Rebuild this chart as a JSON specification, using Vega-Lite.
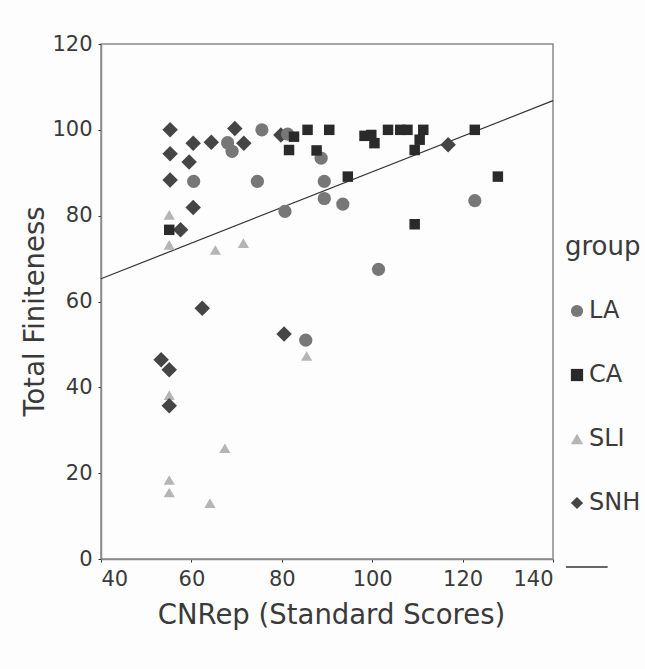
{
  "$schema": "https://vega.github.io/schema/vega-lite/v6.json",
  "width": 452,
  "height": 515,
  "autosize": "none",
  "padding": {"left": 101, "top": 44, "right": 92, "bottom": 110},
  "background": "#fdfdfd",
  "config": {
    "font": "DejaVu Sans",
    "view": {"stroke": "#8a8a8a", "strokeWidth": 1.5},
    "axis": {
      "grid": false,
      "domainColor": "#8a8a8a",
      "domainWidth": 1.5,
      "tickColor": "#333",
      "tickSize": 3,
      "labelFont": "DejaVu Sans",
      "labelFontSize": 21,
      "labelColor": "#3a3a3a",
      "titleFont": "DejaVu Sans",
      "titleFontSize": 27.5,
      "titleFontWeight": "normal",
      "titleColor": "#3a3a3a"
    },
    "legend": {
      "labelFont": "DejaVu Sans",
      "titleFont": "DejaVu Sans"
    }
  },
  "datasets": {
    "pts": [
      {"cnrep": 68, "fin": 97, "group": "LA"},
      {"cnrep": 69, "fin": 95, "group": "LA"},
      {"cnrep": 75.6, "fin": 100, "group": "LA"},
      {"cnrep": 60.5, "fin": 88, "group": "LA"},
      {"cnrep": 74.6, "fin": 88, "group": "LA"},
      {"cnrep": 80.7, "fin": 81, "group": "LA"},
      {"cnrep": 81.3, "fin": 99, "group": "LA"},
      {"cnrep": 88.7, "fin": 93.4, "group": "LA"},
      {"cnrep": 89.4, "fin": 88, "group": "LA"},
      {"cnrep": 89.4, "fin": 84, "group": "LA"},
      {"cnrep": 93.5, "fin": 82.7, "group": "LA"},
      {"cnrep": 122.7, "fin": 83.5, "group": "LA"},
      {"cnrep": 101.4, "fin": 67.5, "group": "LA"},
      {"cnrep": 85.3, "fin": 51, "group": "LA"},
      {"cnrep": 85.7, "fin": 100, "group": "CA"},
      {"cnrep": 82.7, "fin": 98.4, "group": "CA"},
      {"cnrep": 81.6, "fin": 95.3, "group": "CA"},
      {"cnrep": 87.7, "fin": 95.2, "group": "CA"},
      {"cnrep": 55.1, "fin": 76.7, "group": "CA"},
      {"cnrep": 90.5, "fin": 100, "group": "CA"},
      {"cnrep": 94.6, "fin": 89.1, "group": "CA"},
      {"cnrep": 98.3, "fin": 98.6, "group": "CA"},
      {"cnrep": 100.5, "fin": 96.9, "group": "CA"},
      {"cnrep": 99.8, "fin": 98.8, "group": "CA"},
      {"cnrep": 103.5, "fin": 100, "group": "CA"},
      {"cnrep": 106.2, "fin": 100, "group": "CA"},
      {"cnrep": 107.8, "fin": 100, "group": "CA"},
      {"cnrep": 111.3, "fin": 100, "group": "CA"},
      {"cnrep": 110.5, "fin": 97.7, "group": "CA"},
      {"cnrep": 109.4, "fin": 95.3, "group": "CA"},
      {"cnrep": 122.7, "fin": 100, "group": "CA"},
      {"cnrep": 127.8, "fin": 89.1, "group": "CA"},
      {"cnrep": 109.4, "fin": 78, "group": "CA"},
      {"cnrep": 55.1, "fin": 80.2, "group": "SLI"},
      {"cnrep": 55.1, "fin": 73.2, "group": "SLI"},
      {"cnrep": 65.3, "fin": 72, "group": "SLI"},
      {"cnrep": 71.5, "fin": 73.6, "group": "SLI"},
      {"cnrep": 55.1, "fin": 38.2, "group": "SLI"},
      {"cnrep": 55.1, "fin": 18.4, "group": "SLI"},
      {"cnrep": 55.1, "fin": 15.5, "group": "SLI"},
      {"cnrep": 64.1, "fin": 13, "group": "SLI"},
      {"cnrep": 67.4, "fin": 25.8, "group": "SLI"},
      {"cnrep": 85.5, "fin": 47.3, "group": "SLI"},
      {"cnrep": 55.3, "fin": 100, "group": "SNH"},
      {"cnrep": 55.3, "fin": 94.4, "group": "SNH"},
      {"cnrep": 55.3, "fin": 88.3, "group": "SNH"},
      {"cnrep": 60.4, "fin": 96.9, "group": "SNH"},
      {"cnrep": 59.5, "fin": 92.5, "group": "SNH"},
      {"cnrep": 60.4, "fin": 81.9, "group": "SNH"},
      {"cnrep": 64.4, "fin": 97.1, "group": "SNH"},
      {"cnrep": 69.6, "fin": 100.3, "group": "SNH"},
      {"cnrep": 71.6, "fin": 96.9, "group": "SNH"},
      {"cnrep": 57.6, "fin": 76.7, "group": "SNH"},
      {"cnrep": 79.8, "fin": 98.8, "group": "SNH"},
      {"cnrep": 116.8, "fin": 96.5, "group": "SNH"},
      {"cnrep": 62.4, "fin": 58.4, "group": "SNH"},
      {"cnrep": 80.5, "fin": 52.4, "group": "SNH"},
      {"cnrep": 53.3, "fin": 46.4, "group": "SNH"},
      {"cnrep": 55.1, "fin": 44.1, "group": "SNH"},
      {"cnrep": 55.1, "fin": 35.7, "group": "SNH"}
    ],
    "fit": [
      {"cnrep": 40, "fin": 65.3},
      {"cnrep": 140, "fin": 106.8}
    ]
  },
  "encoding": {
    "x": {
      "field": "cnrep",
      "type": "quantitative",
      "scale": {"domain": [40, 140], "nice": false, "zero": false},
      "axis": {"values": [40, 60, 80, 100, 120, 140], "title": "CNRep (Standard Scores)", "labelPadding": 6, "titlePadding": 12, "titleX": 230}
    },
    "y": {
      "field": "fin",
      "type": "quantitative",
      "scale": {"domain": [0, 120], "nice": false},
      "axis": {"values": [0, 20, 40, 60, 80, 100, 120], "title": "Total Finiteness", "labelPadding": 6, "titleX": -66, "titleY": 267, "titleAlign": "center", "titleBaseline": "middle", "titleAngle": -90}
    }
  },
  "layer": [
    {
      "data": {"name": "fit"},
      "mark": {"type": "line", "color": "#333", "strokeWidth": 1.2}
    },
    {
      "data": {"name": "pts"},
      "transform": [{"filter": "datum.group === 'SLI'"}],
      "mark": {"type": "point", "filled": true, "opacity": 1, "size": 125},
      "encoding": {
        "color": {"field": "group", "type": "nominal"},
        "shape": {"field": "group", "type": "nominal"}
      }
    },
    {
      "data": {"name": "pts"},
      "transform": [{"filter": "datum.group === 'SNH'"}],
      "mark": {"type": "point", "filled": true, "opacity": 1, "size": 240},
      "encoding": {
        "color": {"field": "group", "type": "nominal"},
        "shape": {"field": "group", "type": "nominal"}
      }
    },
    {
      "data": {"name": "pts"},
      "transform": [{"filter": "datum.group === 'LA'"}],
      "mark": {"type": "point", "filled": true, "opacity": 1, "size": 175},
      "encoding": {
        "color": {"field": "group", "type": "nominal"},
        "shape": {"field": "group", "type": "nominal"}
      }
    },
    {
      "data": {"name": "pts"},
      "transform": [{"filter": "datum.group === 'CA'"}],
      "mark": {"type": "point", "filled": true, "opacity": 1, "size": 110},
      "encoding": {
        "color": {
          "field": "group",
          "type": "nominal",
          "scale": {"domain": ["LA", "CA", "SLI", "SNH", "fit"], "range": ["#777777", "#2a2a2a", "#b5b5b5", "#454545", "#333333"]},
          "legend": {
            "title": "group",
            "orient": "none",
            "legendX": 464,
            "legendY": 190,
            "titleFontSize": 26,
            "titleFontWeight": "normal",
            "titleColor": "#3a3a3a",
            "labelFontSize": 24,
            "labelColor": "#3a3a3a",
            "rowPadding": 40,
            "symbolSize": 150,
            "titlePadding": 39,
            "labelOffset": 0,
            "values": ["LA", "CA", "SLI", "SNH", "fit"],
            "labelExpr": "datum.value === 'fit' ? '' : datum.label"
          }
        },
        "shape": {
          "field": "group",
          "type": "nominal",
          "scale": {"domain": ["LA", "CA", "SLI", "SNH", "fit"], "range": ["circle", "square", "triangle-up", "diamond", "M-1.8,-0.12L5,-0.12L5,0.12L-1.8,0.12Z"]},
          "legend": {
            "title": "group",
            "orient": "none",
            "legendX": 464,
            "legendY": 190,
            "titleFontSize": 26,
            "titleFontWeight": "normal",
            "titleColor": "#3a3a3a",
            "labelFontSize": 24,
            "labelColor": "#3a3a3a",
            "rowPadding": 40,
            "symbolSize": 150,
            "titlePadding": 39,
            "labelOffset": 0,
            "values": ["LA", "CA", "SLI", "SNH", "fit"],
            "labelExpr": "datum.value === 'fit' ? '' : datum.label"
          }
        }
      }
    }
  ]
}
